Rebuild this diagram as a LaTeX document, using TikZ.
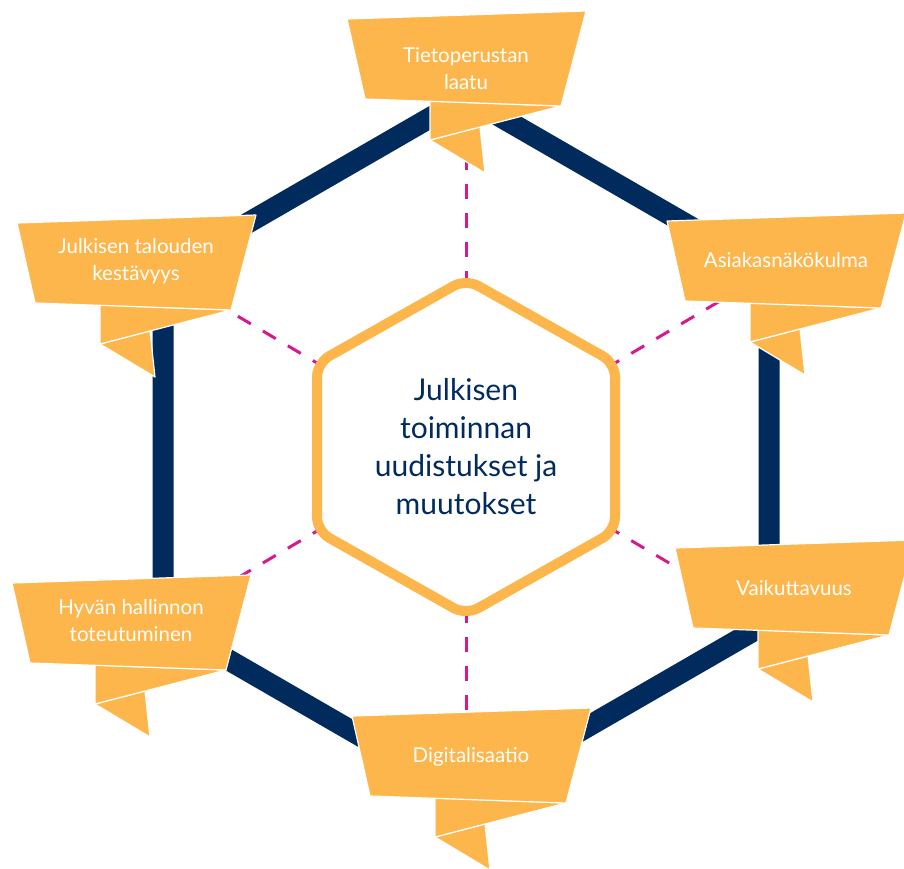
\documentclass[tikz,border=0pt]{standalone}
\usepackage{fontspec}
\setmainfont{Lato}
\usetikzlibrary{calc}
\definecolor{ribbonorange}{RGB}{252,182,75}
\definecolor{hexnavy}{RGB}{0,43,92}
\definecolor{linkpink}{RGB}{213,25,145}

\begin{document}
\begin{tikzpicture}
    [
      x=1pt, y=-1pt,
      frame/.style={draw=hexnavy, line width=21pt, line join=miter},
      core/.style={draw=ribbonorange, fill=white, line width=10pt, rounded corners=14pt},
      link/.style={draw=linkpink, line width=3pt, dash pattern=on 15pt off 14pt},
      ribbon/.style={fill=ribbonorange, draw=white, line width=1.2pt, line join=round},
      ribbon text/.style={text=white, font=\fontsize{20.5}{27}\selectfont, align=center, inner sep=0pt},
      core text/.style={text=hexnavy, font=\fontsize{30}{38}\selectfont, align=center}
    ]
    \clip (0,0) rectangle (904,868);
    % corners of the two hexagons
    \foreach \k/\ox/\oy/\ix/\iy in {1/466/97/466/279, 2/769/272/615/363, 3/769/622/615/531,
                                    4/466/797/466/615, 5/163/622/317/531, 6/163/272/317/363} {
      \coordinate (o\k) at (\ox,\oy);
      \coordinate (i\k) at (\ix,\iy);
    }
    \draw [frame] (o1) -- (o2) -- (o3) -- (o4) -- (o5) -- (o6) -- cycle;
    \foreach \k in {1,...,6}
      \draw [link] (o\k) -- (i\k);
    \draw [core] (i1) -- (i2) -- (i3) -- (i4) -- (i5) -- (i6) -- cycle;
    \node (centre) [core text] at (466,447) {Julkisen\\toiminnan\\uudistukset ja\\muutokset};
    % ribbons
    \foreach \n/\x/\y/\ty/\txt in {quality/347/19/50/{Tietoperustan\\laatu},
                                   customer/667/221/39/{Asiakasnäkökulma},
                                   impact/675/548/40/{Vaikuttavuus},
                                   digital/352/716/41/{Digitalisaatio},
                                   governance/12/583/38/{Hyvän hallinnon\\toteutuminen},
                                   economy/17/223/38/{Julkisen talouden\\kestävyys}} {
      \begin{scope}[shift={(\x,\y)}]
        \draw [ribbon] (83,121) -- (133,108) -- (138,154) -- cycle;
        \draw [ribbon] (83,82) -- (214,87) -- (83,121) -- cycle;
        \draw [ribbon] (0,0) -- (239,-8) -- (214,87) -- (18,80) -- cycle;
        \node (\n) [ribbon text] at (119,\ty) {\txt};
      \end{scope}
    }
\end{tikzpicture}
\end{document}
